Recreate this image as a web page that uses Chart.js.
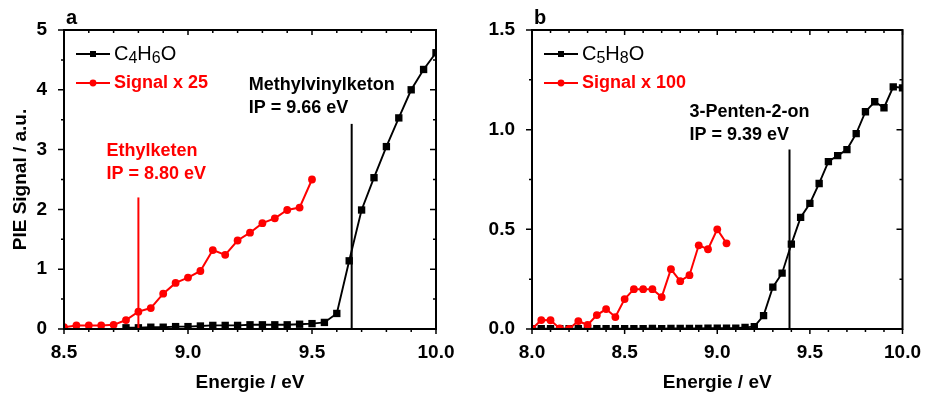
<!DOCTYPE html>
<html>
<head>
<meta charset="utf-8">
<script src="https://cdn.jsdelivr.net/npm/chart.js@4.4.1/dist/chart.umd.min.js"></script>
<style>
  html, body { margin: 0; padding: 0; background: #fff; }
  #wrap { position: relative; width: 925px; height: 396px; }
  canvas { position: absolute; top: 0; }
</style>
</head>
<body>
<div id="wrap">
  <canvas id="panelA" width="462" height="396" style="left:0"></canvas>
  <canvas id="panelB" width="463" height="396" style="left:462px"></canvas>
</div>
<script>
// panel a: C4H6O mass channel
const energyA = [8.75, 8.80, 8.85, 8.90, 8.95, 9.00, 9.05, 9.10, 9.15, 9.20, 9.25, 9.30, 9.35,
  9.40, 9.45, 9.50, 9.55, 9.60, 9.65, 9.70, 9.75, 9.80, 9.85, 9.90, 9.95, 10.00];
const pieA = [0.02, 0.02, 0.03, 0.03, 0.04, 0.04, 0.05, 0.06, 0.06, 0.06, 0.07, 0.07, 0.07,
  0.07, 0.08, 0.09, 0.11, 0.26, 1.14, 1.99, 2.53, 3.05, 3.53, 4.00, 4.34, 4.62];
const energyA25 = [8.50, 8.55, 8.60, 8.65, 8.70, 8.75, 8.80, 8.85, 8.90, 8.95, 9.00, 9.05, 9.10,
  9.15, 9.20, 9.25, 9.30, 9.35, 9.40, 9.45, 9.50];
const signalA25 = [0.03, 0.06, 0.06, 0.06, 0.07, 0.15, 0.29, 0.35, 0.59, 0.77, 0.86, 0.97, 1.32,
  1.24, 1.48, 1.61, 1.77, 1.85, 1.99, 2.03, 2.50];

// panel b: C5H8O mass channel
const energyB = [8.00, 8.05, 8.10, 8.15, 8.20, 8.25, 8.30, 8.35, 8.40, 8.45, 8.50, 8.55, 8.60,
  8.65, 8.70, 8.75, 8.80, 8.85, 8.90, 8.95, 9.00, 9.05, 9.10, 9.15, 9.20, 9.25, 9.30, 9.35,
  9.40, 9.45, 9.50, 9.55, 9.60, 9.65, 9.70, 9.75, 9.80, 9.85, 9.90, 9.95, 10.00];
const pieB = [0.002, 0.002, 0.001, 0.002, 0.002, 0.002, 0.001, 0.002, 0.002, 0.002, 0.002, 0.002,
  0.002, 0.003, 0.002, 0.003, 0.003, 0.003, 0.003, 0.004, 0.004, 0.004, 0.004, 0.008, 0.012,
  0.067, 0.21, 0.28, 0.426, 0.56, 0.63, 0.73, 0.84, 0.87, 0.90, 0.98, 1.09, 1.14, 1.11, 1.215, 1.21];
const energyB100 = [8.00, 8.05, 8.10, 8.15, 8.20, 8.25, 8.30, 8.35, 8.40, 8.45, 8.50, 8.55, 8.60,
  8.65, 8.70, 8.75, 8.80, 8.85, 8.90, 8.95, 9.00, 9.05];
const signalB100 = [0.00, 0.045, 0.044, 0.003, 0.0, 0.04, 0.02, 0.07, 0.10, 0.06, 0.15, 0.20,
  0.20, 0.20, 0.16, 0.30, 0.24, 0.27, 0.42, 0.40, 0.50, 0.43];

// ionisation potentials marked with a vertical line [eV, line top]
const ipA = [{ name: 'Ethylketen', ip: 8.80, top: 2.2, color: '#ff0000' },
             { name: 'Methylvinylketon', ip: 9.66, top: 3.43, color: '#000000' }];
const ipB = [{ name: '3-Penten-2-on', ip: 9.39, top: 0.90, color: '#000000' }];

const RED = '#ff0000';
const FONT = "'Liberation Sans', Arial, sans-serif";

const pts = (xs, ys) => xs.map((x, i) => ({ x: x, y: ys[i] }));

// box frame plus Origin-style ticks: out on left/bottom, in on top/right
const frameTicks = {
  id: 'frameTicks',
  afterDraw(chart, args, opts) {
    const { ctx, chartArea: a, scales } = chart;
    ctx.save();
    ctx.strokeStyle = '#000';
    ctx.lineWidth = 1.5;
    ctx.beginPath();
    const xs = scales.x, ys = scales.y;
    const xn = Math.round((xs.max - xs.min) / opts.xMinor);
    for (let i = 0; i <= xn; i++) {
      const px = xs.getPixelForValue(xs.min + i * opts.xMinor);
      const len = i % opts.xEvery === 0 ? 5 : 3;
      ctx.moveTo(px, a.bottom); ctx.lineTo(px, a.bottom + len);
      ctx.moveTo(px, a.top); ctx.lineTo(px, a.top + len);
    }
    const yn = Math.round((ys.max - ys.min) / opts.yMinor);
    for (let i = 0; i <= yn; i++) {
      const py = ys.getPixelForValue(ys.min + i * opts.yMinor);
      const len = i % opts.yEvery === 0 ? 6 : 3;
      ctx.moveTo(a.left, py); ctx.lineTo(a.left - len, py);
      ctx.moveTo(a.right, py); ctx.lineTo(a.right - len, py);
    }
    ctx.stroke();
    ctx.lineWidth = 2;
    ctx.strokeRect(a.left, a.top, a.right - a.left, a.bottom - a.top);
    ctx.restore();
  }
};

// legend with subscripted formula, IP annotations and the panel letter
function drawRich(ctx, parts, x, y, size) {
  parts.forEach(p => {
    const sub = typeof p !== 'string';
    const s = sub ? p.sub : p;
    ctx.font = (sub ? Math.round(size * 0.8) : size) + 'px ' + FONT;
    ctx.fillText(s, x, y + (sub ? 5 : 0));
    x += ctx.measureText(s).width;
  });
}

const overlay = {
  id: 'overlay',
  afterDatasetsDraw(chart, args, opts) {
    const { ctx, chartArea: a, scales } = chart;
    ctx.save();
    ctx.textAlign = 'left';

    // panel letter
    ctx.fillStyle = '#000';
    ctx.font = 'bold 20px ' + FONT;
    ctx.textBaseline = 'alphabetic';
    ctx.fillText(opts.letter, a.left + 2, 24);
    ctx.textBaseline = 'middle';

    // legend rows
    const lx = a.left + 12;
    const rows = [
      { y: a.top + 24, color: '#000', style: 'rect' },
      { y: a.top + 53, color: RED, style: 'circle' }
    ];
    rows.forEach((r, i) => {
      ctx.strokeStyle = r.color;
      ctx.fillStyle = r.color;
      ctx.lineWidth = 1.8;
      ctx.beginPath();
      ctx.moveTo(lx, r.y); ctx.lineTo(lx + 34, r.y);
      ctx.stroke();
      ctx.beginPath();
      if (r.style === 'rect') ctx.rect(lx + 14, r.y - 3, 6, 6);
      else ctx.arc(lx + 17, r.y, 3.4, 0, Math.PI * 2);
      ctx.fill();
      if (i === 0) {
        drawRich(ctx, opts.formula, lx + 38, r.y, 20);
      } else {
        ctx.font = 'bold 18px ' + FONT;
        ctx.fillText(opts.scaleText, lx + 38, r.y);
      }
    });

    // IP labels above the vertical lines
    opts.ips.forEach(m => {
      const px = scales.x.getPixelForValue(m.ip);
      const py = scales.y.getPixelForValue(m.top);
      ctx.fillStyle = m.color;
      ctx.font = 'bold 18px ' + FONT;
      ctx.fillText(m.name, px + m.dx, py + m.dy - 23);
      ctx.fillText('IP = ' + m.ip.toFixed(2) + ' eV', px + m.dx, py + m.dy);
    });
    ctx.restore();
  }
};

function ipLines(list) {
  return list.map(m => ({
    data: [{ x: m.ip, y: 0 }, { x: m.ip, y: m.top }],
    borderColor: m.color,
    borderWidth: 2,
    pointRadius: 0,
    order: 0
  }));
}

function axisFont(size) {
  return { family: FONT, size: size, weight: 'bold' };
}

function makePanel(id, cfg) {
  return new Chart(document.getElementById(id), {
    type: 'line',
    data: {
      datasets: [
        ...ipLines(cfg.ipList),
        {
          data: pts(cfg.redX, cfg.redY),
          borderColor: RED, backgroundColor: RED,
          borderWidth: 2, pointStyle: 'circle', pointRadius: 3.9,
          pointBorderWidth: 0, order: 1
        },
        {
          data: pts(cfg.blackX, cfg.blackY),
          borderColor: '#000', backgroundColor: '#000',
          borderWidth: 1.9, pointStyle: 'rect', pointRadius: 5.2,
          pointBorderWidth: 0, order: 2
        }
      ]
    },
    options: {
      responsive: false,
      animation: false,
      devicePixelRatio: 1,
      layout: { padding: { left: 0, top: 30, right: cfg.padRight, bottom: 0 } },
      plugins: {
        legend: { display: false },
        tooltip: { enabled: false },
        frameTicks: cfg.ticks,
        overlay: {
          letter: cfg.letter,
          formula: cfg.formula,
          scaleText: cfg.scaleText,
          ips: cfg.ipList
        }
      },
      scales: {
        x: {
          type: 'linear',
          min: cfg.xMin, max: 10,
          grid: { display: false },
          border: { display: false },
          ticks: {
            stepSize: 0.5,
            padding: 4,
            color: '#000',
            font: axisFont(19),
            callback: v => v.toFixed(1)
          },
          title: {
            display: true,
            text: 'Energie / eV',
            color: '#000',
            font: axisFont(19),
            padding: { top: 0, bottom: 2 }
          },
          afterFit: s => { s.height = 67; }
        },
        y: {
          type: 'linear',
          min: 0, max: cfg.yMax,
          grid: { display: false },
          border: { display: false },
          ticks: {
            stepSize: cfg.yStep,
            padding: 9,
            color: '#000',
            font: axisFont(19),
            callback: cfg.yFmt
          },
          title: {
            display: cfg.yTitle !== '',
            text: cfg.yTitle,
            color: '#000',
            font: axisFont(19),
            padding: { top: 9, bottom: 0 }
          },
          afterFit: s => { s.width = cfg.yWidth; }
        }
      }
    },
    plugins: [frameTicks, overlay]
  });
}

ipA[0].dx = -32; ipA[0].dy = -23;
ipA[1].dx = -103; ipA[1].dy = -16;
ipB[0].dx = -100; ipB[0].dy = -15;

makePanel('panelA', {
  letter: 'a',
  formula: ['C', { sub: '4' }, 'H', { sub: '6' }, 'O'],
  scaleText: 'Signal x 25',
  ipList: ipA,
  redX: energyA25, redY: signalA25,
  blackX: energyA, blackY: pieA,
  xMin: 8.5, yMax: 5, yStep: 1,
  yFmt: v => String(v),
  yTitle: 'PIE Signal / a.u.',
  yWidth: 64, padRight: 26,
  ticks: { xMinor: 0.1, xEvery: 5, yMinor: 0.5, yEvery: 2 }
});

makePanel('panelB', {
  letter: 'b',
  formula: ['C', { sub: '5' }, 'H', { sub: '8' }, 'O'],
  scaleText: 'Signal x 100',
  ipList: ipB,
  redX: energyB100, redY: signalB100,
  blackX: energyB, blackY: pieB,
  xMin: 8.0, yMax: 1.5, yStep: 0.5,
  yFmt: v => v.toFixed(1),
  yTitle: '',
  yWidth: 70, padRight: 21,
  ticks: { xMinor: 0.1, xEvery: 5, yMinor: 0.25, yEvery: 2 }
});
</script>
</body>
</html>
